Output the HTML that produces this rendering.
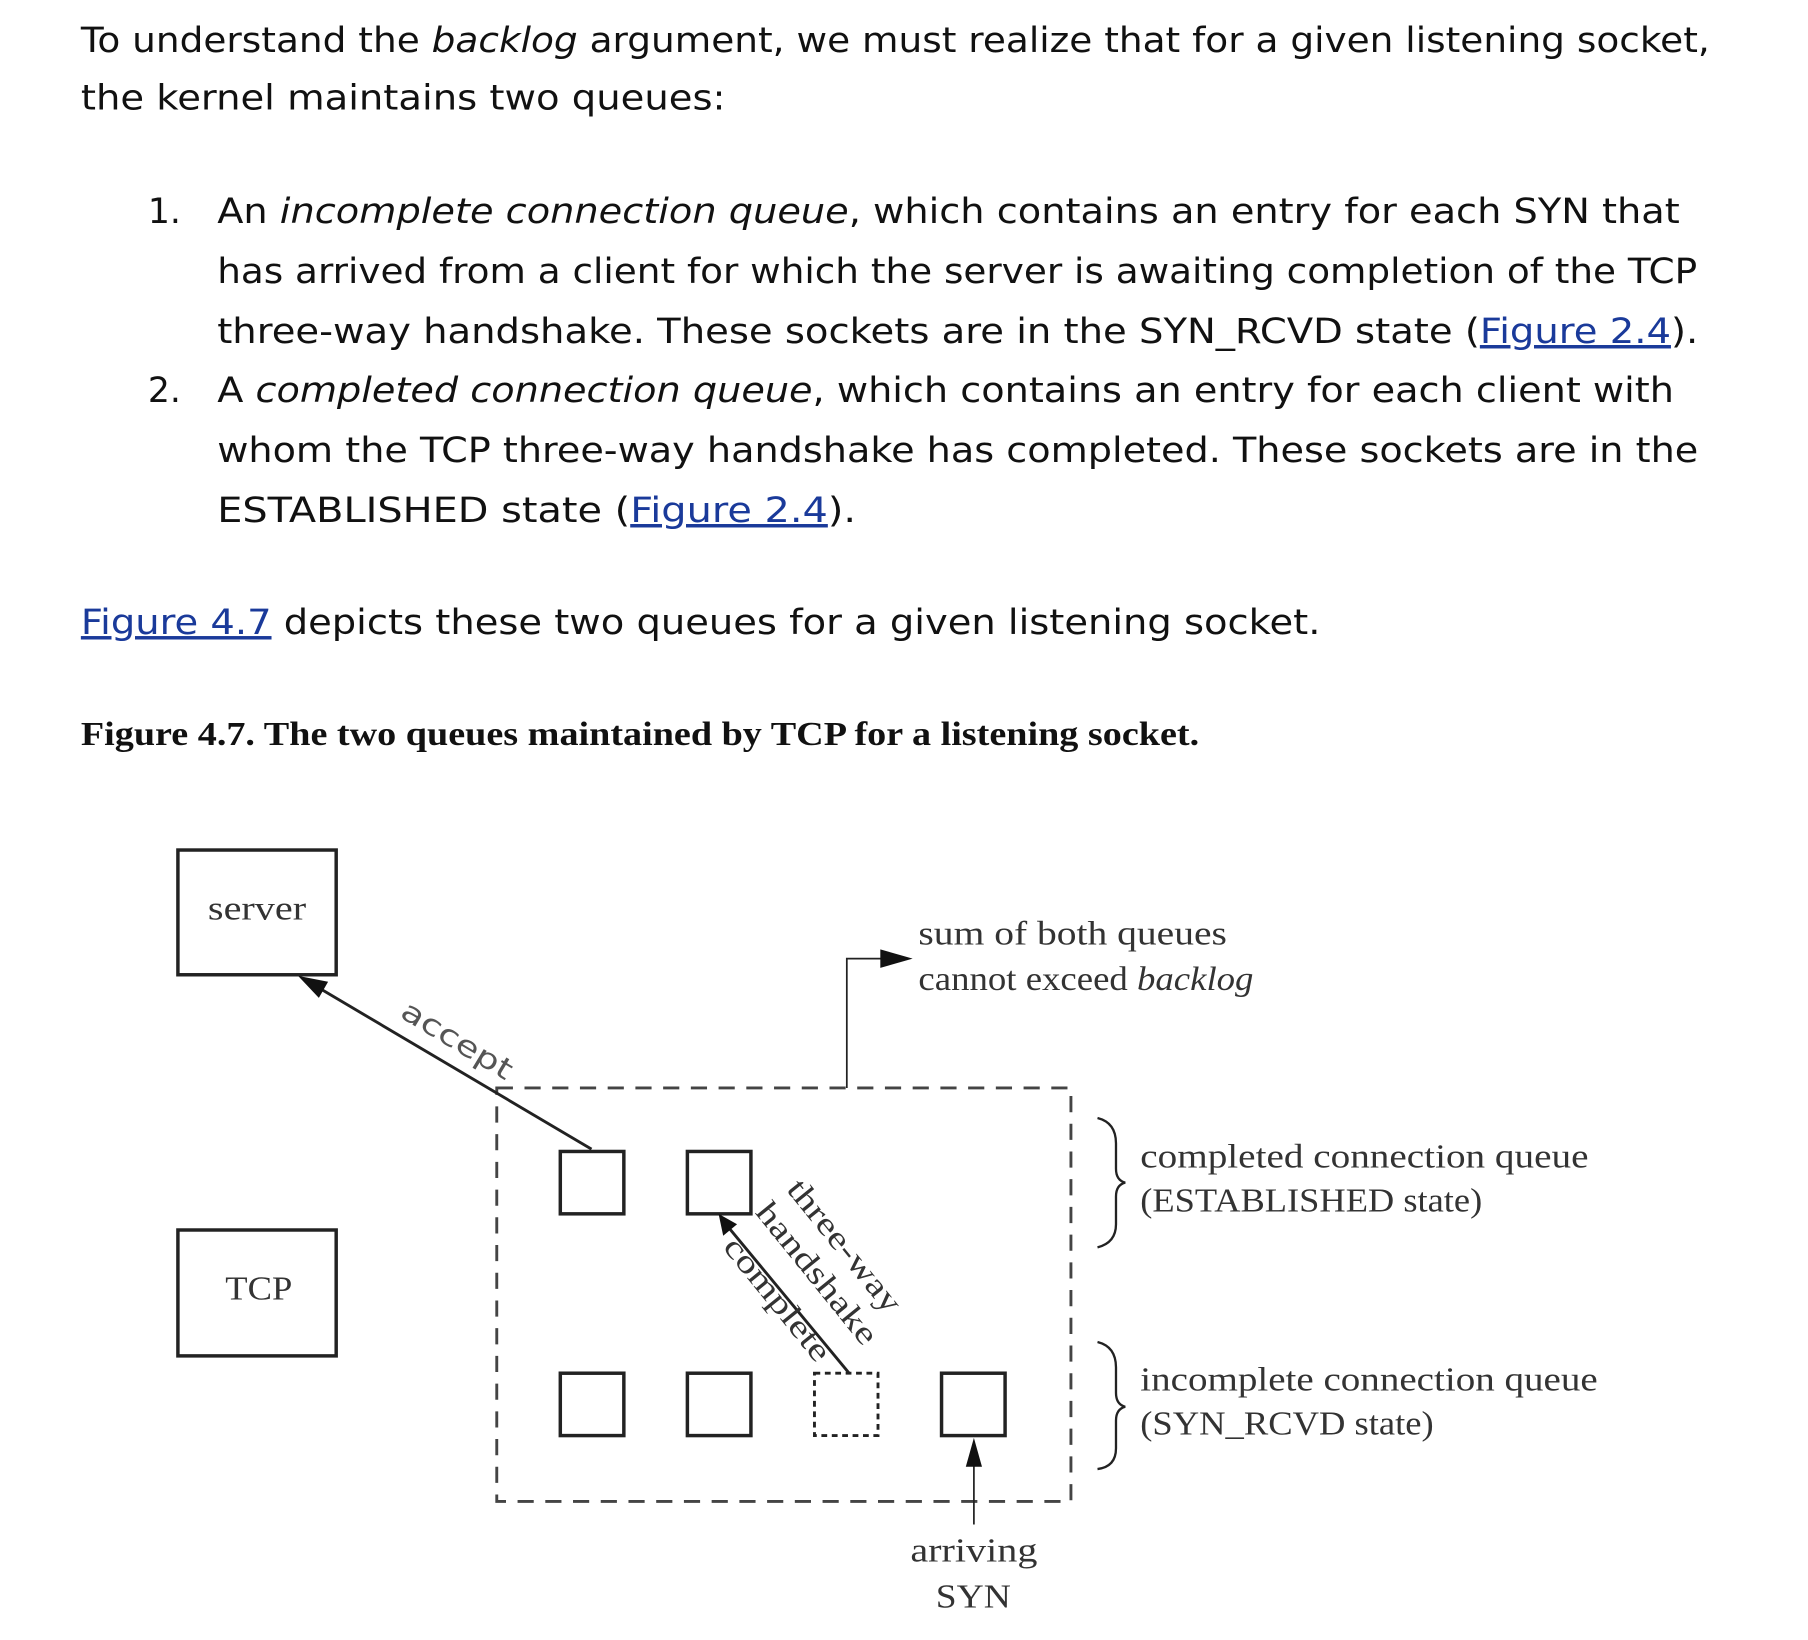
<!DOCTYPE html>
<html><head><meta charset="utf-8"><style>
html,body{margin:0;padding:0;background:#fff;}
svg{display:block;}
.t{font-family:"DejaVu Sans","Liberation Sans",sans-serif;font-size:30px;fill:#111;}
.a{fill:#1a3a9a;text-decoration:underline;}
.s{font-family:"Liberation Serif",serif;fill:#333;}
</style></head><body>
<svg width="1808" height="1640" viewBox="0 0 1565 1420" preserveAspectRatio="none" xmlns="http://www.w3.org/2000/svg">
<text class="t" x="70" y="45" textLength="1410" lengthAdjust="spacingAndGlyphs">To understand the <tspan font-style="italic">backlog</tspan> argument, we must realize that for a given listening socket,</text>
<text class="t" x="70" y="95" textLength="558" lengthAdjust="spacingAndGlyphs">the kernel maintains two queues:</text>
<text class="t" x="128" y="193">1.</text>
<text class="t" x="188" y="193" textLength="1266" lengthAdjust="spacingAndGlyphs">An <tspan font-style="italic">incomplete connection queue</tspan>, which contains an entry for each SYN that</text>
<text class="t" x="188" y="245" textLength="1281" lengthAdjust="spacingAndGlyphs">has arrived from a client for which the server is awaiting completion of the TCP</text>
<text class="t" x="188" y="297" textLength="1282" lengthAdjust="spacingAndGlyphs">three-way handshake. These sockets are in the SYN_RCVD state (<tspan class="a">Figure 2.4</tspan>).</text>
<text class="t" x="128" y="348">2.</text>
<text class="t" x="188" y="348" textLength="1261" lengthAdjust="spacingAndGlyphs">A <tspan font-style="italic">completed connection queue</tspan>, which contains an entry for each client with</text>
<text class="t" x="188" y="400" textLength="1282" lengthAdjust="spacingAndGlyphs">whom the TCP three-way handshake has completed. These sockets are in the</text>
<text class="t" x="188" y="452" textLength="553" lengthAdjust="spacingAndGlyphs">ESTABLISHED state (<tspan class="a">Figure 2.4</tspan>).</text>
<text class="t" x="70" y="549" textLength="1073" lengthAdjust="spacingAndGlyphs"><tspan class="a">Figure 4.7</tspan> depicts these two queues for a given listening socket.</text>
<text x="70" y="645" font-family="Liberation Serif,serif" font-weight="bold" font-size="29" textLength="968" lengthAdjust="spacingAndGlyphs" fill="#111">Figure 4.7. The two queues maintained by TCP for a listening socket.</text>

<g stroke="#222" fill="none" stroke-width="3">
<rect x="154" y="736" width="137" height="108"/>
<rect x="154" y="1065" width="137" height="109"/>
<rect x="485" y="997" width="55" height="54"/>
<rect x="595" y="997" width="55" height="54"/>
<rect x="485" y="1189" width="55" height="54"/>
<rect x="595" y="1189" width="55" height="54"/>
<rect x="815" y="1189" width="55" height="54"/>
<rect x="705" y="1189" width="55" height="54" stroke-dasharray="5 4" stroke-width="2.5"/>
<rect x="430" y="942" width="497" height="358" stroke-dasharray="14 10" stroke-width="2.5" stroke="#444"/>
<line x1="512" y1="995" x2="272" y2="853" stroke-width="2.5"/>
<line x1="735" y1="1189" x2="630" y2="1062" stroke-width="2.5"/>
<polyline points="733,942 733,830 765,830" stroke-width="1.5"/>
<line x1="843" y1="1320" x2="843" y2="1262" stroke-width="1.5"/>
<path d="M950,968 Q966,972 966,990 L966,1012 Q966,1022 974,1024 Q966,1026 966,1036 L966,1060 Q966,1076 950,1080" stroke-width="2"/>
<path d="M950,1162 Q966,1166 966,1184 L966,1206 Q966,1216 974,1218 Q966,1220 966,1230 L966,1254 Q966,1270 950,1272" stroke-width="2"/>
</g>
<g fill="#111">
<polygon points="258,845 284,850 276,864"/>
<polygon points="622,1051 638,1060 626,1070"/>
<polygon points="790,830 762,822 762,838"/>
<polygon points="843,1245 836,1270 850,1270"/>
</g>
<g class="s" font-size="29">
<text x="180" y="796" textLength="85" lengthAdjust="spacingAndGlyphs">server</text>
<text x="195" y="1125" textLength="58" lengthAdjust="spacingAndGlyphs">TCP</text>
<text x="795" y="818" textLength="267" lengthAdjust="spacingAndGlyphs">sum of both queues</text>
<text x="795" y="857" textLength="290" lengthAdjust="spacingAndGlyphs">cannot exceed <tspan font-style="italic">backlog</tspan></text>
<text x="987" y="1011" textLength="388" lengthAdjust="spacingAndGlyphs">completed connection queue</text>
<text x="987" y="1049" textLength="296" lengthAdjust="spacingAndGlyphs">(ESTABLISHED state)</text>
<text x="987" y="1204" textLength="396" lengthAdjust="spacingAndGlyphs">incomplete connection queue</text>
<text x="987" y="1242" textLength="254" lengthAdjust="spacingAndGlyphs">(SYN_RCVD state)</text>
<text x="788" y="1352" textLength="110" lengthAdjust="spacingAndGlyphs">arriving</text>
<text x="810" y="1392" textLength="65" lengthAdjust="spacingAndGlyphs">SYN</text>
</g>
<text transform="translate(345,880) rotate(31)" font-family="DejaVu Sans,sans-serif" font-size="25" fill="#555" textLength="108" lengthAdjust="spacingAndGlyphs">accept</text>
<g class="s" font-size="28" fill="#222">
<text transform="translate(680,1030) rotate(51)" textLength="140" lengthAdjust="spacingAndGlyphs">three-way</text>
<text transform="translate(653,1050) rotate(51)" textLength="150" lengthAdjust="spacingAndGlyphs">handshake</text>
<text transform="translate(625,1080) rotate(51)" textLength="130" lengthAdjust="spacingAndGlyphs">complete</text>
</g>
</svg>
</body></html>
